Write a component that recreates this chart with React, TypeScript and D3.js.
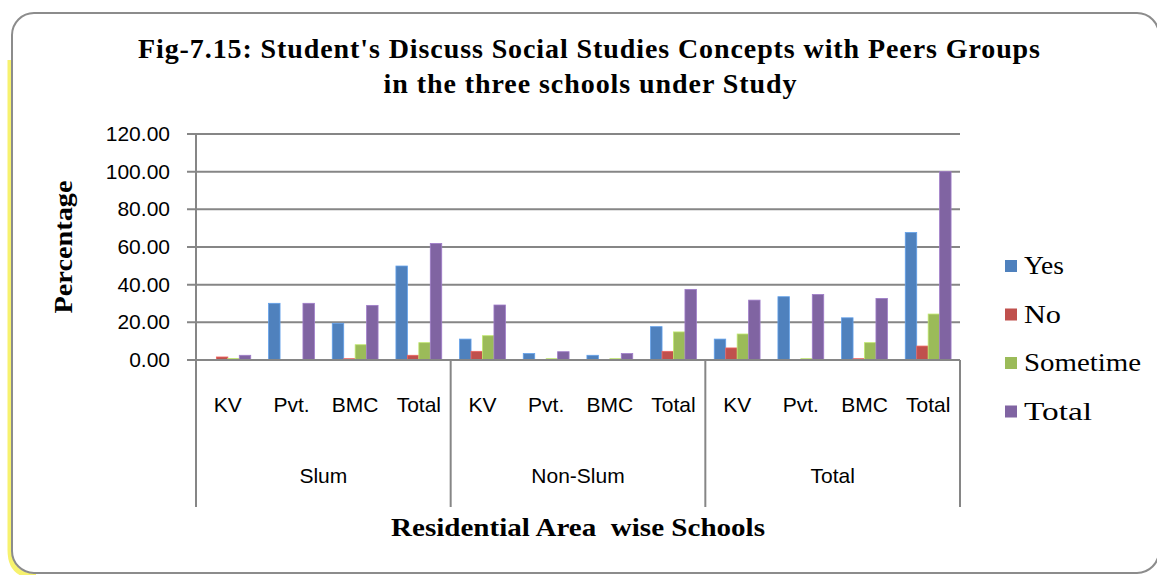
import React, { useEffect, useRef } from 'react'
import * as d3 from 'd3'

// values
const groups = ['Slum', 'Non-Slum', 'Total']
const schools = ['KV', 'Pvt.', 'BMC', 'Total']
const seriesNames = ['Yes', 'No', 'Sometime', 'Total']
const yesVals = [0, 30.1, 19.5, 49.9, 11.1, 3.4, 2.5, 17.7, 11.1, 33.6, 22.4, 67.7]
const noVals = [1.6, 0, 0.7, 2.5, 4.6, 0, 0, 4.6, 6.4, 0, 0.7, 7.4]
const sometimeVals = [0.8, 0, 8.1, 9.2, 12.9, 0.7, 0.7, 14.9, 13.8, 0.7, 9.2, 24.4]
const totalVals = [2.5, 30.1, 29.0, 61.9, 29.2, 4.4, 3.4, 37.5, 31.8, 34.8, 32.7, 100]
const yTicks = [0, 20, 40, 60, 80, 100, 120]
const colors = ['#4F81BD', '#C0504D', '#9BBB59', '#8064A2']

const App = () => {
  const ref = useRef<SVGSVGElement>(null)

  useEffect(() => {
    const svg = d3.select(ref.current)
    svg.selectAll('*').remove()

    const W = 1157, H = 575
    const margin = { left: 196, right: 197, top: 134, bottom: 215 }
    const width = W - margin.left - margin.right
    const height = H - margin.top - margin.bottom
    const serif = '"Liberation Serif", serif'
    const sans = '"Liberation Sans", sans-serif'

    // frame (yellow glow only on the left / bottom-left)
    svg.append('path')
      .attr('d', 'M10,60 L10,550 Q10,576 36,576')
      .attr('fill', 'none').attr('stroke', '#f7f26e').attr('stroke-width', 5)
    svg.append('rect')
      .attr('x', 12).attr('y', 13).attr('width', 1147).attr('height', 560)
      .attr('rx', 22).attr('fill', '#fff').attr('stroke', '#8c8c8c').attr('stroke-width', 2)

    const title = svg.append('text')
      .attr('text-anchor', 'middle')
      .attr('font-family', serif)
      .attr('font-weight', 'bold')
      .attr('font-size', 28)
      .attr('lengthAdjust', 'spacingAndGlyphs')
    title.append('tspan').attr('x', 589).attr('y', 58)
      .attr('textLength', 902)
      .text("Fig-7.15: Student's Discuss Social Studies Concepts with Peers Groups")
    title.append('tspan').attr('x', 590).attr('y', 93)
      .attr('textLength', 413)
      .text('in the three schools under Study')

    const cats: string[] = []
    groups.forEach(g => schools.forEach(s => cats.push(g + '|' + s)))
    const data = cats.map((c, i) => ({
      key: c,
      vals: [yesVals[i], noVals[i], sometimeVals[i], totalVals[i]]
    }))

    const x = d3.scaleBand().domain(cats).range([0, width]).padding(0)
    const x1 = d3.scaleBand().domain(seriesNames.map((s, i) => String(i)))
      .range([0, x.bandwidth()]).paddingInner(0).paddingOuter(0.78)
    const y = d3.scaleLinear().domain([0, 120]).range([height, 0])

    const g = svg.append('g')
      .attr('transform', 'translate(' + margin.left + ',' + margin.top + ')')

    // gridlines
    g.selectAll('.grid').data(yTicks).enter().append('line')
      .attr('x1', -9).attr('x2', width)
      .attr('y1', d => y(d)).attr('y2', d => y(d))
      .attr('stroke', '#868686').attr('stroke-width', 2)

    g.selectAll('.ylab').data(yTicks).enter().append('text')
      .attr('x', -26).attr('y', d => y(d) + 7)
      .attr('text-anchor', 'end')
      .attr('font-family', sans)
      .attr('font-size', 21)
      .text(d => d3.format('.2f')(d))

    g.append('line').attr('x1', 0).attr('x2', 0).attr('y1', 0).attr('y2', height)
      .attr('stroke', '#868686').attr('stroke-width', 2)

    // bars
    const cat = g.selectAll('.cat').data(data).enter().append('g')
      .attr('transform', d => 'translate(' + x(d.key) + ',0)')
    cat.selectAll('rect').data(d => d.vals).enter().append('rect')
      .attr('x', (d, i) => x1(String(i)) as number)
      .attr('width', x1.bandwidth())
      .attr('y', d => y(d))
      .attr('height', d => height - y(d))
      .attr('fill', (d, i) => colors[i])
      .attr('stroke', (d, i) => d3.color(colors[i])!.brighter(0.6).toString())
      .attr('stroke-width', 0.8)

    // category axis
    g.append('line').attr('x1', 0).attr('x2', width).attr('y1', height).attr('y2', height)
      .attr('stroke', '#868686').attr('stroke-width', 2)
    const groupW = width / groups.length
    for (let i = 0; i <= groups.length; i++) {
      g.append('line')
        .attr('x1', i * groupW).attr('x2', i * groupW)
        .attr('y1', height).attr('y2', height + 147)
        .attr('stroke', '#868686').attr('stroke-width', 2)
    }
    g.selectAll('.xlab').data(cats).enter().append('text')
      .attr('x', d => (x(d) as number) + x.bandwidth() / 2)
      .attr('y', height + 52)
      .attr('text-anchor', 'middle')
      .attr('font-family', sans)
      .attr('font-size', 21)
      .text(d => d.split('|')[1])
    g.selectAll('.glab').data(groups).enter().append('text')
      .attr('x', (d, i) => i * groupW + groupW / 2)
      .attr('y', height + 123)
      .attr('text-anchor', 'middle')
      .attr('font-family', sans)
      .attr('font-size', 21)
      .text(d => d)

    // axis titles
    svg.append('text')
      .attr('transform', 'translate(72,247) rotate(-90)')
      .attr('text-anchor', 'middle')
      .attr('font-family', serif)
      .attr('font-weight', 'bold').attr('font-size', 25)
      .attr('textLength', 133).attr('lengthAdjust', 'spacingAndGlyphs')
      .text('Percentage')
    svg.append('text')
      .attr('x', 578).attr('y', 536)
      .attr('text-anchor', 'middle')
      .attr('font-family', serif)
      .attr('font-weight', 'bold').attr('font-size', 25)
      .attr('textLength', 374).attr('lengthAdjust', 'spacingAndGlyphs')
      .attr('xml:space', 'preserve')
      .text('Residential Area  wise Schools')

    // legend
    const legWidths = [40, 37, 117, 68]
    const leg = svg.selectAll('.leg').data(seriesNames).enter().append('g')
      .attr('transform', (d, i) => 'translate(1005,' + (260 + i * 48.5) + ')')
    leg.append('rect').attr('width', 12).attr('height', 12).attr('fill', (d, i) => colors[i])
    leg.append('text').attr('x', 19).attr('y', 14)
      .attr('font-family', serif)
      .attr('font-size', 25)
      .attr('textLength', (d, i) => legWidths[i]).attr('lengthAdjust', 'spacingAndGlyphs')
      .text(d => d)
  }, [])

  return (
    <svg ref={ref} width={1157} height={575}
      style={{ position: 'absolute', left: 0, top: 0, display: 'block' }} />
  )
}

export default App
